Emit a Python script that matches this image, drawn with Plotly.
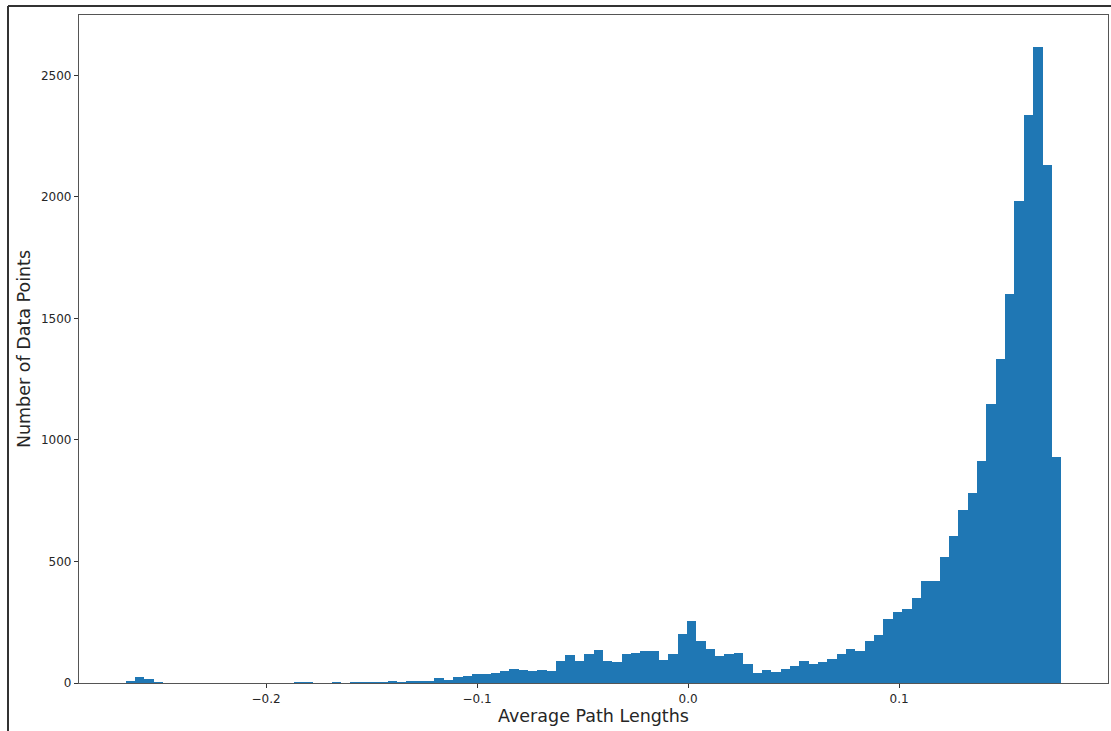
import numpy as np
import plotly.graph_objects as go

# Histogram of average path lengths: 100 equal-width bins
bin_start = -0.2665
bin_end = 0.1768
n_bins = 100

counts = [
    10, 23, 18, 4, 0, 0, 0, 0, 0, 0,
    0, 0, 0, 0, 0, 0, 0, 0, 3, 3,
    0, 0, 3, 0, 3, 4, 4, 4, 9, 4,
    8, 8, 9, 19, 14, 24, 30, 38, 36, 40,
    48, 56, 55, 49, 55, 49, 89, 114, 90, 119,
    136, 90, 85, 119, 125, 130, 131, 96, 121, 201,
    256, 171, 140, 110, 119, 125, 79, 40, 55, 44,
    56, 70, 90, 79, 85, 100, 121, 141, 132, 173,
    196, 262, 292, 303, 348, 418, 418, 519, 606, 711,
    781, 914, 1150, 1333, 1602, 1985, 2338, 2618, 2133, 928,
]

x_tick_vals = [-0.2, -0.1, 0.0, 0.1]
x_tick_text = ["\u22120.2", "\u22120.1", "0.0", "0.1"]
y_tick_vals = [0, 500, 1000, 1500, 2000, 2500]

edges = np.linspace(bin_start, bin_end, n_bins + 1)
centers = (edges[:-1] + edges[1:]) / 2
width = edges[1] - edges[0]

# matplotlib-style 5% data margins on x, top margin on y
span = bin_end - bin_start
x_range = [bin_start - 0.05 * span, bin_end + 0.05 * span]
y_range = [0, max(counts) * 1.05]

fig = go.Figure(
    go.Bar(
        x=centers,
        y=counts,
        width=width,
        marker=dict(color="#1f77b4", line=dict(width=0)),
        hoverinfo="x+y",
    )
)

axis_font = dict(family="DejaVu Sans", size=12, color="#262626")
title_font = dict(family="DejaVu Sans", size=17.5, color="#262626")

fig.update_layout(
    width=1111,
    height=731,
    margin=dict(l=79, r=3, t=15, b=48),
    paper_bgcolor="white",
    plot_bgcolor="white",
    bargap=0,
    showlegend=False,
    font=dict(family="DejaVu Sans"),
    xaxis=dict(
        range=x_range,
        tickvals=x_tick_vals,
        ticktext=x_tick_text,
        ticks="outside",
        ticklen=4,
        tickwidth=1,
        tickcolor="#333",
        tickfont=axis_font,
        showline=True,
        linecolor="#555",
        linewidth=1.2,
        mirror=True,
        showgrid=False,
        zeroline=False,
        title=dict(text="Average Path Lengths", font=title_font, standoff=5),
    ),
    yaxis=dict(
        range=y_range,
        tickvals=y_tick_vals,
        ticks="outside",
        ticklen=4,
        tickwidth=1,
        tickcolor="#333",
        tickfont=axis_font,
        showline=True,
        linecolor="#555",
        linewidth=1.2,
        mirror=True,
        showgrid=False,
        zeroline=False,
        title=dict(text="Number of Data Points", font=title_font, standoff=5),
    ),
)

# outer cell frame: left and top edges
plot_w = 1111 - 79 - 3
plot_h = 731 - 15 - 48
fx = (8 - 79) / plot_w
fy_top = (683 - 6) / plot_h
fy_bot = (683 - 731) / plot_h
x_right = (1111 - 79) / plot_w
frame = dict(color="#333", width=2)
fig.add_shape(type="line", xref="paper", yref="paper",
              x0=fx, x1=fx, y0=fy_bot, y1=fy_top, line=frame)
fig.add_shape(type="line", xref="paper", yref="paper",
              x0=fx, x1=x_right, y0=fy_top, y1=fy_top, line=frame)

fig.write_html("out.html")
